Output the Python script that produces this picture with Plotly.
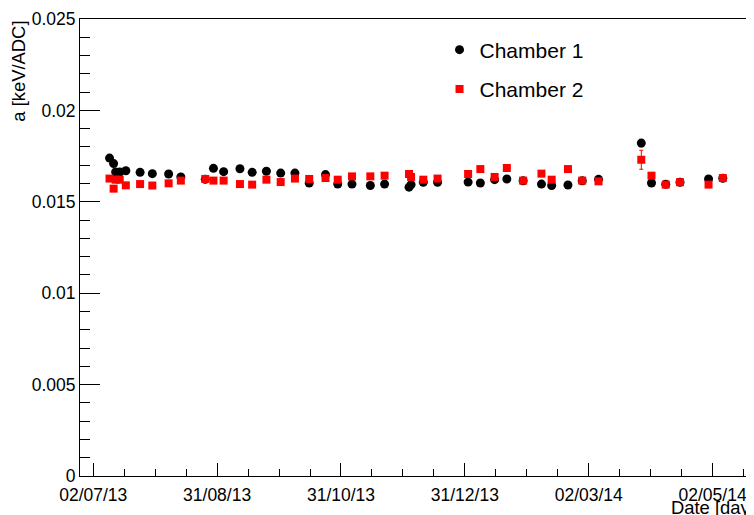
import plotly.graph_objects as go

# measurement dates (one run per date, both chambers)
dates = [
    "2013-07-10", "2013-07-12", "2013-07-13", "2013-07-15", "2013-07-18",
    "2013-07-25", "2013-07-31", "2013-08-08", "2013-08-14", "2013-08-26",
    "2013-08-30", "2013-09-04", "2013-09-12", "2013-09-18", "2013-09-25",
    "2013-10-02", "2013-10-09", "2013-10-16", "2013-10-24", "2013-10-30",
    "2013-11-06", "2013-11-15", "2013-11-22", "2013-12-04", "2013-12-05",
    "2013-12-11", "2013-12-18", "2014-01-02", "2014-01-08", "2014-01-15",
    "2014-01-21", "2014-01-29", "2014-02-07", "2014-02-12", "2014-02-20",
    "2014-02-27", "2014-03-07", "2014-03-28", "2014-04-02", "2014-04-09",
    "2014-04-16", "2014-04-30", "2014-05-07",
]

# calibration constant a [keV/ADC]
chamber1 = [
    0.01739, 0.01709, 0.01663, 0.01663, 0.01670, 0.01661, 0.01654, 0.01652,
    0.01636, 0.01623, 0.01683, 0.01665, 0.01681, 0.01661, 0.01667, 0.01657,
    0.01657, 0.01603, 0.01649, 0.01597, 0.01597, 0.01589, 0.01597, 0.01580,
    0.01594, 0.01607, 0.01607, 0.01608, 0.01603, 0.01621, 0.01625, 0.01615,
    0.01597, 0.01589, 0.01592, 0.01615, 0.01623, 0.01821, 0.01603, 0.01596,
    0.01607, 0.01625, 0.01629,
]
chamber2 = [
    0.01627, 0.01572, 0.01621, 0.01621, 0.01590, 0.01597, 0.01589, 0.01601,
    0.01616, 0.01625, 0.01616, 0.01616, 0.01597, 0.01594, 0.01621, 0.01608,
    0.01627, 0.01625, 0.01630, 0.01621, 0.01639, 0.01639, 0.01643, 0.01652,
    0.01636, 0.01621, 0.01627, 0.01652, 0.01679, 0.01636, 0.01685, 0.01616,
    0.01654, 0.01621, 0.01679, 0.01616, 0.01612, 0.01730, 0.01643, 0.01594,
    0.01607, 0.01594, 0.01630,
]
# errors (only the one on 28/03/14 sticks out of the marker)
chamber1_err = [0.0001] * 37 + [0.0002] + [0.0001] * 5
chamber2_err = [0.0001] * 37 + [0.00052] + [0.0001] * 5

font = "Liberation Sans, Arial, sans-serif"

fig = go.Figure()
fig.add_trace(go.Scatter(
    x=dates, y=chamber1, mode="markers", name="Chamber 1", legendgroup="c1",
    marker=dict(symbol="circle", size=9, color="black"),
    error_y=dict(type="data", array=chamber1_err, color="black", thickness=1, width=2),
))
fig.add_trace(go.Scatter(
    x=dates, y=chamber2, mode="markers", name="Chamber 2", legendgroup="c2",
    marker=dict(symbol="square", size=8, color="red"),
    error_y=dict(type="data", array=chamber2_err, color="red", thickness=1, width=2),
))

day_ms = 86400000
fig.update_xaxes(
    type="date",
    range=["2013-06-25 12:00", "2014-05-21 08:00"],
    tick0="2013-07-02", dtick=60.8 * day_ms, tickformat="%d/%m/%y",
    ticks="inside", ticklen=13, tickcolor="black", ticklabelstandoff=3,
    ticklabeloverflow="allow",
    minor=dict(tick0="2013-07-02", dtick=15.2 * day_ms, ticks="inside", ticklen=7, tickcolor="black"),
    showline=True, mirror=True, linecolor="black", linewidth=1,
    showgrid=False, zeroline=False,
    tickfont=dict(family=font, size=17.5, color="black"),
)
fig.update_yaxes(
    range=[0, 0.025], tick0=0, dtick=0.005,
    ticks="inside", ticklen=20, tickcolor="black",
    ticklabeloverflow="allow",
    minor=dict(dtick=0.001, ticks="inside", ticklen=10, tickcolor="black"),
    showline=True, mirror=True, linecolor="black", linewidth=1,
    showgrid=False, zeroline=False,
    tickfont=dict(family=font, size=17.5, color="black"),
)

# page body has an 8px margin, so the figure is shifted by 8px
fig.add_annotation(text="a [keV/ADC]", textangle=-90, xref="paper", yref="paper",
                   x=-0.092, y=1.0, xanchor="center", yanchor="top", showarrow=False,
                   font=dict(family=font, size=18.4, color="black"))
fig.add_annotation(text="Date [day]", xref="paper", yref="paper",
                   x=1.0, y=-0.07, xanchor="right", yanchor="middle", xshift=5, showarrow=False,
                   font=dict(family=font, size=18.4, color="black"))

fig.update_layout(
    width=746, height=507,
    margin=dict(l=72, r=1, t=9, b=39),
    paper_bgcolor="white", plot_bgcolor="white",
    font=dict(family=font, size=17, color="black"),
    showlegend=True,
    legend=dict(x=0.535, y=0.977, xanchor="left", yanchor="top",
                bgcolor="rgba(0,0,0,0)", font=dict(family=font, size=21),
                tracegroupgap=9, itemwidth=30),
)

fig.write_html("out.html")
